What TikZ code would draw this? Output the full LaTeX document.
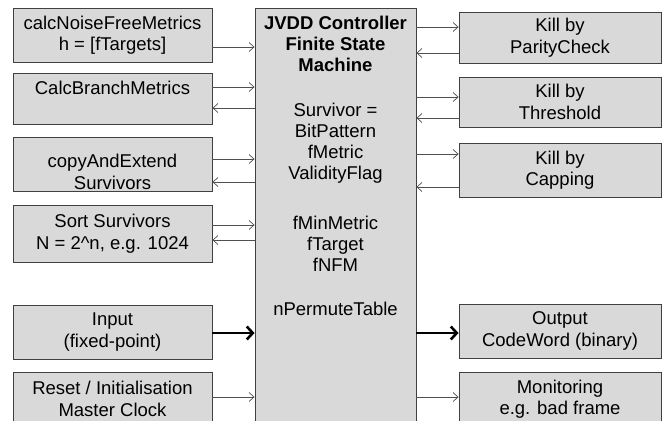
\documentclass[tikz,border=0pt]{standalone}
\usepackage{fontspec}
\setmainfont{Liberation Sans}
\usetikzlibrary{arrows.meta}
\definecolor{boxfill}{HTML}{D9D9D9}
\definecolor{edgecol}{HTML}{404040}
\definecolor{arrcol}{HTML}{505050}
\begin{document}
\begin{tikzpicture}[x=1pt,y=-1pt,
  txtfont/.style={font=\fontsize{18.5}{21.5}\selectfont},
  box/.style={draw=edgecol,fill=boxfill,line width=0.9pt,align=center,inner sep=0pt,txtfont},
  lbox/.style={box,minimum width=199pt},
  rbox/.style={box,minimum width=202pt},
  plain/.style={align=center,inner sep=0pt,txtfont},
  thinarr/.style={draw=arrcol,line width=0.7pt,-{Straight Barb[length=5pt,width=9pt]}},
  thickarr/.style={draw=black,line width=2.6pt,-{Straight Barb[length=6pt,width=13pt]}}
]
\clip (0,0) rectangle (666,420);
\fill[white] (0,0) rectangle (666,420);

% centre box
\node[box,minimum width=161pt,minimum height=432pt] (c) at (335.5,224) {};
\node[plain,font=\fontsize{18.5}{21}\selectfont\bfseries] (ct1) at (335.5,44) {JVDD Controller\\Finite State\\Machine};
\node[plain,font=\fontsize{18.5}{21}\selectfont] (ct2) at (335.5,143.5) {Survivor =\\BitPattern\\fMetric\\ValidityFlag};
\node[plain,font=\fontsize{18.5}{21}\selectfont] (ct3) at (335.5,243.5) {fMinMetric\\fTarget\\fNFM};
\node[plain,font=\fontsize{18.5}{21}\selectfont] (ct4) at (335.5,309) {nPermuteTable};

% left boxes
\node[lbox,minimum height=54pt] (l1) at (112.5,35) {calcNoiseFreeMetrics\\h = [fTargets]};
\node[lbox,minimum height=51pt] (l2) at (112.5,98.5) {CalcBranchMetrics\\~};
\node[lbox,minimum height=54pt] (l3) at (112.5,164) {};
\node[plain] (l3t) at (112.5,172) {copyAndExtend\\Survivors};
\node[lbox,minimum height=57pt] (l4) at (112.5,233.5) {Sort Survivors\\N = 2\^{}n, e.g. 1024};
\node[lbox,minimum height=54pt] (l5) at (112.5,332) {Input\\(fixed-point)};
\node[lbox,minimum height=54pt] (l6) at (112.5,399) {Reset / Initialisation\\Master Clock};

% right boxes
\node[rbox,minimum height=51pt] (r1) at (560,37.5) {Kill by\\ParityCheck};
\node[rbox,minimum height=50pt] (r2) at (560,102) {Kill by\\Threshold};
\node[rbox,minimum height=54pt] (r3) at (560,170) {Kill by\\Capping};
\node[rbox,minimum height=54pt] (r4) at (560,331) {Output\\CodeWord (binary)};
\node[rbox,minimum height=54pt] (r5) at (560,399) {Monitoring\\e.g. bad frame};

% left connectors
\draw[thinarr] (l1.east |- 0,47) -- (c.west |- 0,47);
\draw[thinarr] (l2.east |- 0,87) -- (c.west |- 0,87);
\draw[thinarr] (c.west |- 0,108) -- (l2.east |- 0,108);
\draw[thinarr] (l3.east |- 0,159) -- (c.west |- 0,159);
\draw[thinarr] (c.west |- 0,182) -- (l3.east |- 0,182);
\draw[thinarr] (l4.east |- 0,225) -- (c.west |- 0,225);
\draw[thinarr] (c.west |- 0,240) -- (l4.east |- 0,240);
\draw[thickarr] (l5.east |- 0,333) -- (c.west |- 0,333);
\draw[thinarr] (l6.east |- 0,397) -- (c.west |- 0,397);

% right connectors
\draw[thinarr] (c.east |- 0,27) -- (r1.west |- 0,27);
\draw[thinarr] (r1.west |- 0,53) -- (c.east |- 0,53);
\draw[thinarr] (c.east |- 0,97) -- (r2.west |- 0,97);
\draw[thinarr] (r2.west |- 0,118) -- (c.east |- 0,118);
\draw[thinarr] (c.east |- 0,154) -- (r3.west |- 0,154);
\draw[thinarr] (r3.west |- 0,187) -- (c.east |- 0,187);
\draw[thickarr] (c.east |- 0,333) -- (r4.west |- 0,333);
\draw[thinarr] (c.east |- 0,397) -- (r5.west |- 0,397);
\end{tikzpicture}
\end{document}
